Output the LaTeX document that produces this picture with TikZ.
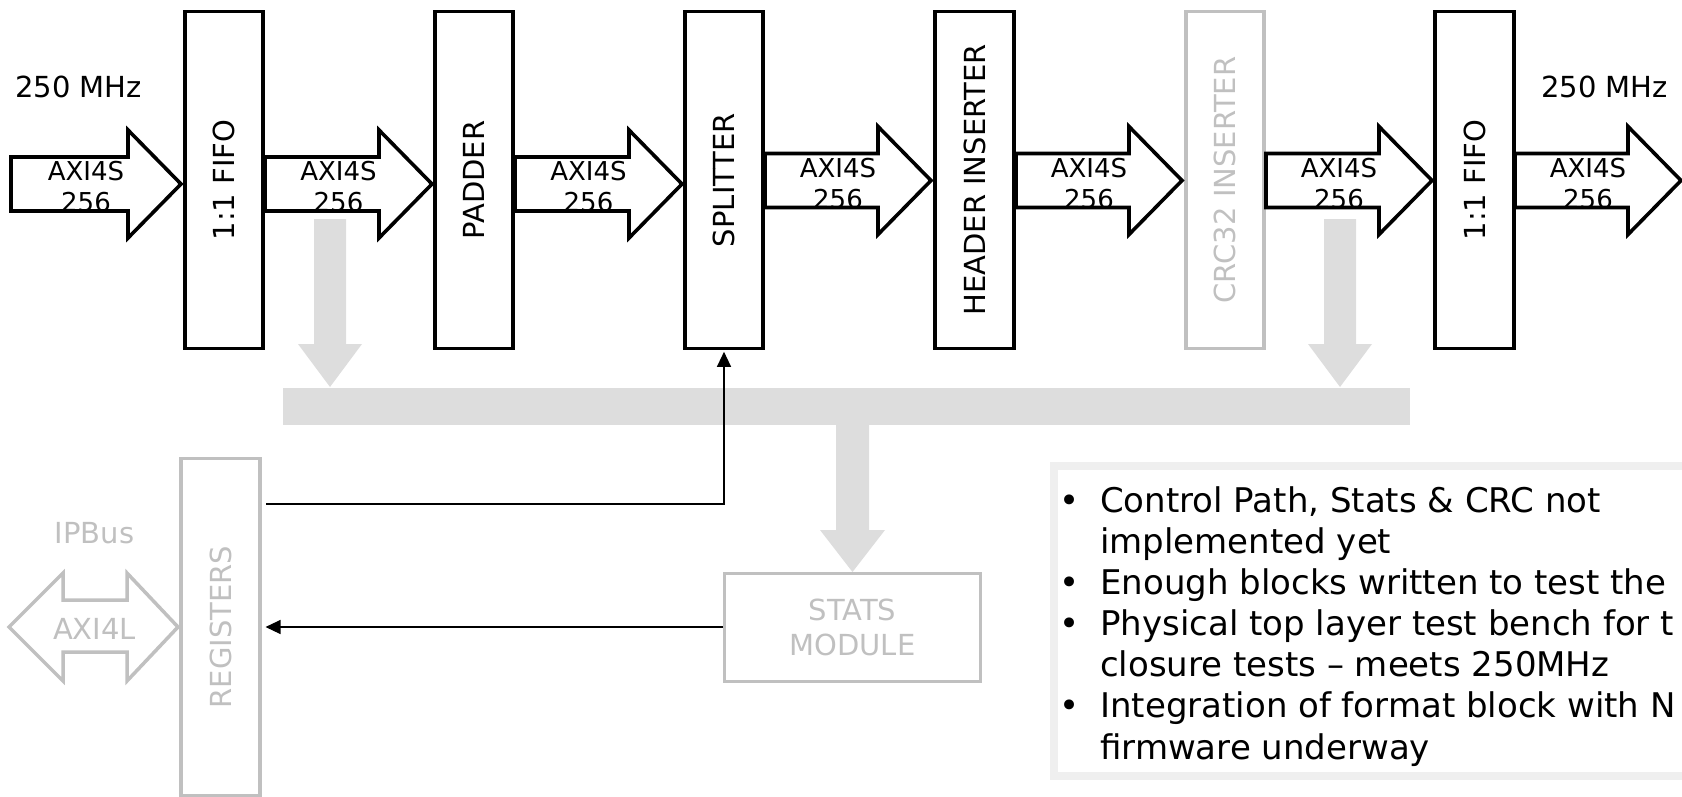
\documentclass[tikz,border=0pt]{standalone}
\usepackage{fontspec}
\setmainfont{DejaVu Sans}
\usetikzlibrary{arrows.meta}
\definecolor{busgray}{RGB}{221,221,221}
\definecolor{dimgray}{RGB}{192,192,192}
\definecolor{noteframe}{RGB}{239,239,239}

% AXI4S stream arrow: name, left x, tip x, centre y
\newcommand\axiarrow[4]{%
  \draw[fatarrow] (#2,#4-27) -- (#3-53,#4-27) -- (#3-53,#4-54) -- (#3,#4)
    -- (#3-53,#4+54) -- (#3-53,#4+27) -- (#2,#4+27) -- cycle;
  \node[axilabel] (#1) at ({(#2+#3)/2-10},#4+3) {AXI4S\\256};
}

\begin{document}
\begin{tikzpicture}[x=1pt,y=-1pt,
  block/.style={draw=black, line width=3.6pt, minimum width=78.5pt,
    minimum height=337pt, inner sep=0pt},
  dimblock/.style={block, draw=dimgray},
  lbl/.style={font=\fontsize{29}{35}\selectfont, inner sep=0pt},
  dimlbl/.style={lbl, text=dimgray},
  fatarrow/.style={draw=black, fill=white, line width=3.6pt, line join=miter},
  axilabel/.style={font=\fontsize{26}{31}\selectfont, align=center, inner sep=0pt},
  ctrl/.style={draw=black, line width=1.2pt, -{Triangle[length=15pt,width=14pt]}},
  note/.style={font=\fontsize{34}{41}\selectfont, inner sep=0pt, anchor=base west}
]
\useasboundingbox (0,0) rectangle (1682,796);
\clip (0,0) rectangle (1682,796);

% clock labels
\node[lbl, anchor=base] (clkin) at (78.5,97) {250 MHz};
\node[lbl, anchor=base] (clkout) at (1604.5,97) {250 MHz};

% data-path blocks
\node[block] (fifoa) at (224,180) {};
\node[block] (pad) at (474,180) {};
\node[block] (split) at (724,180) {};
\node[block] (hdr) at (974.5,180) {};
\node[dimblock] (crc) at (1225,180) {};
\node[block] (fifob) at (1474.5,180) {};

\node[lbl, rotate=90] (fifoatxt) at (fifoa) {1:1 FIFO};
\node[lbl, rotate=90] (padtxt) at (pad) {PADDER};
\node[lbl, rotate=90] (splittxt) at (split) {SPLITTER};
\node[lbl, rotate=90] (hdrtxt) at (hdr) {HEADER INSERTER};
\node[dimlbl, rotate=90] (crctxt) at (crc) {CRC32 INSERTER};
\node[lbl, rotate=90] (fifobtxt) at (fifob) {1:1 FIFO};

% AXI4S streams between the blocks
\axiarrow{sa}{11}{181}{184}
\axiarrow{sb}{265}{432}{184}
\axiarrow{sc}{515}{682}{184}
\axiarrow{sd}{765}{931}{180.5}
\axiarrow{se}{1016}{1182}{180.5}
\axiarrow{sf}{1266}{1432}{180.5}
\axiarrow{sg}{1515}{1681}{180.5}

% monitoring bus
\node[fill=busgray, minimum width=1127pt, minimum height=37pt, inner sep=0pt]
  (bus) at (846.5,406.5) {};
\fill[busgray] (314,219) -- (346,219) -- (346,344) -- (362,344) -- (330,387)
  -- (298,344) -- (314,344) -- cycle;
\fill[busgray] (1324,219) -- (1356,219) -- (1356,344) -- (1372,344) -- (1340,387)
  -- (1308,344) -- (1324,344) -- cycle;
\fill[busgray] (836,425) -- (869,425) -- (869,530) -- (885,530) -- (852.5,572)
  -- (820,530) -- (836,530) -- cycle;

% control / register side
\node[dimblock] (regs) at (220.5,627) {};
\node[dimlbl, rotate=90] (regstxt) at (regs) {REGISTERS};
\node[draw=dimgray, line width=3pt, minimum width=256pt, minimum height=108pt,
  align=center, inner sep=0pt, text=dimgray, font=\fontsize{29}{35}\selectfont]
  (stats) at (852.5,627) {STATS\\MODULE};

\node[dimlbl, anchor=base] (ipbus) at (94.5,543) {IPBus};
\draw[draw=dimgray, fill=white, line width=3.5pt, line join=miter]
  (9,627) -- (63,573) -- (63,600) -- (127,600) -- (127,573) -- (178,627)
  -- (127,681) -- (127,652) -- (63,652) -- (63,681) -- cycle;
\node[dimlbl, anchor=base] (axil) at (94.5,639) {AXI4L};

\coordinate (ctlstart) at (266,504);
\draw[ctrl, shorten >=1.5pt] (ctlstart) -| (split.south);
\draw[ctrl, shorten >=4pt] (stats.west) -- (regs.east);

% status notes
\node[draw=noteframe, fill=white, line width=8pt, minimum width=666pt,
  minimum height=310pt, inner sep=0pt] (notes) at (1387,621) {};
\node[note] (na) at (1100,512) {\llap{\textbullet\hspace{21pt}}Control Path, Stats \& CRC not};
\node[note] (nb) at (1100,553.2) {implemented yet};
\node[note] (nc) at (1100,594.3) {\llap{\textbullet\hspace{21pt}}Enough blocks written to test the};
\node[note] (nd) at (1100,635.5) {\llap{\textbullet\hspace{21pt}}Physical top layer test bench for t};
\node[note] (ne) at (1100,676.7) {closure tests -- meets 250MHz};
\node[note] (nf) at (1100,717.8) {\llap{\textbullet\hspace{21pt}}Integration of format block with N};
\node[note] (ng) at (1100,759) {firmware underway};
\end{tikzpicture}
\end{document}
